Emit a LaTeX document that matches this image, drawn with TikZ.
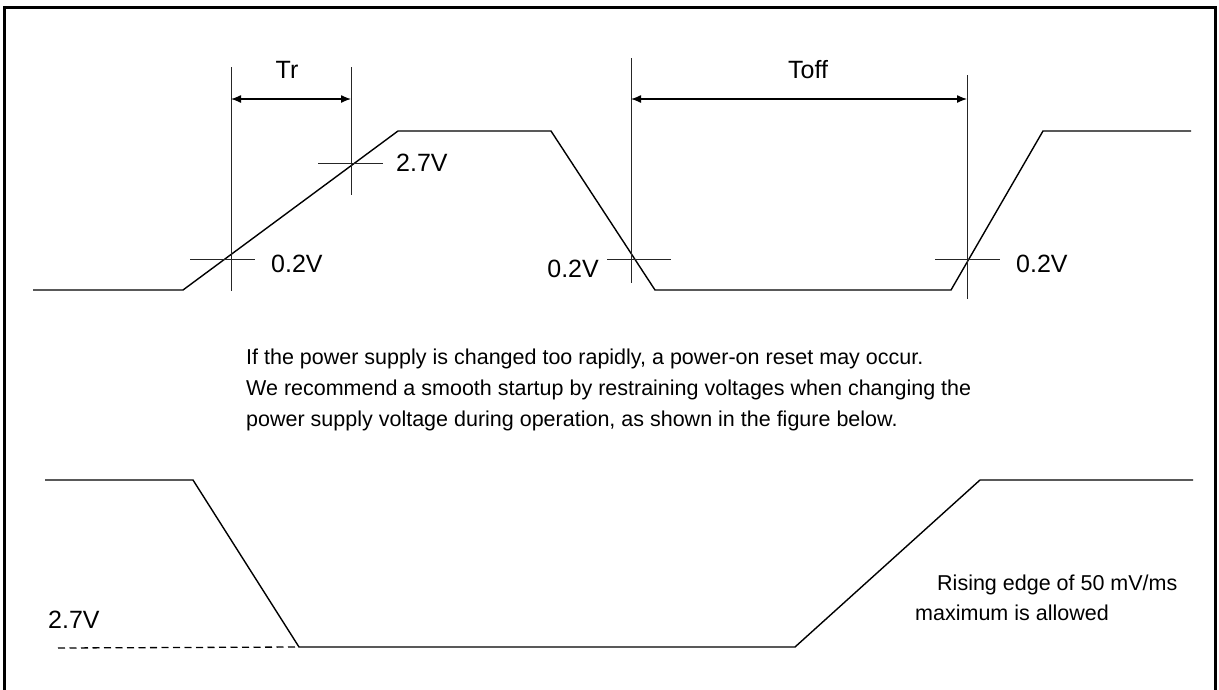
\documentclass[tikz,border=0pt]{standalone}
\usepackage{fontspec}
\setmainfont{Liberation Sans}
\usetikzlibrary{arrows.meta}
\begin{document}
\begin{tikzpicture}[x=1pt,y=-1pt,
  wave/.style={line width=1.4pt},
  tickline/.style={line width=1pt,black!85},
  dimline/.style={line width=1.3pt,{Latex[length=10pt,width=8pt]}-{Latex[length=10pt,width=8pt]}},
  lbl/.style={anchor=base west,inner sep=0pt,font=\fontsize{25}{30}\selectfont},
  txt/.style={anchor=base west,inner sep=0pt,font=\fontsize{21.5}{31}\selectfont}]
\useasboundingbox (0,0) rectangle (1219,689);
% frame (bottom edge lies below the picture)
\coordinate (f1) at (4,693); \coordinate (f2) at (4,7);
\coordinate (f3) at (1215,7); \coordinate (f4) at (1215,693);
\draw[line width=3pt] (f1) -- (f2) -- (f3) -- (f4);
% top waveform
\coordinate (w1) at (33,290);
\coordinate (w2) at (183,290);
\coordinate (w3) at (398,131);
\coordinate (w4) at (551,131);
\coordinate (w5) at (655,290);
\coordinate (w6) at (951,290);
\coordinate (w7) at (1043,131);
\coordinate (w8) at (1191,131);
\draw[wave] (w1) -- (w2) -- (w3) -- (w4) -- (w5) -- (w6) -- (w7) -- (w8);
% Tr
\coordinate (tra) at (231,67);  \coordinate (trb) at (231,291);
\coordinate (trc) at (351,67);  \coordinate (trd) at (351,195);
\draw[tickline] (tra) -- (trb);
\draw[tickline] (trc) -- (trd);
\coordinate (tr1) at (231,99); \coordinate (tr2) at (351,99);
\draw[dimline] (tr1) -- (tr2);
\node[anchor=base,inner sep=0pt,font=\fontsize{25}{30}\selectfont] (trl) at (287,78) {Tr};
% Toff
\coordinate (toa) at (631,58);  \coordinate (tob) at (631,283);
\coordinate (toc) at (967,75);  \coordinate (tod) at (967,299);
\draw[tickline] (toa) -- (tob);
\draw[tickline] (toc) -- (tod);
\coordinate (to1) at (631,99); \coordinate (to2) at (967,99);
\draw[dimline] (to1) -- (to2);
\node[anchor=base,inner sep=0pt,font=\fontsize{25}{30}\selectfont] (tol) at (808,78) {Toff};
% cross marks
\coordinate (h1a) at (190,259); \coordinate (h1b) at (255,259);
\coordinate (h2a) at (318,163); \coordinate (h2b) at (383,163);
\coordinate (h3a) at (607,259); \coordinate (h3b) at (671,259);
\coordinate (h4a) at (935,259); \coordinate (h4b) at (1000,259);
\draw[tickline] (h1a) -- (h1b);
\draw[tickline] (h2a) -- (h2b);
\draw[tickline] (h3a) -- (h3b);
\draw[tickline] (h4a) -- (h4b);
\node[lbl] (l1) at (271,272) {0.2V};
\node[lbl] (l2) at (396,171) {2.7V};
\node[lbl,anchor=base east] (l3) at (599,277) {0.2V};
\node[lbl] (l4) at (1016,272) {0.2V};
% paragraph
\node[txt] (p1) at (246,364) {If the power supply is changed too rapidly, a power-on reset may occur.};
\node[txt] (p2) at (246,395) {We recommend a smooth startup by restraining voltages when changing the};
\node[txt] (p3) at (246,426) {power supply voltage during operation, as shown in the figure below.};
% bottom waveform
\coordinate (b1) at (45,480);
\coordinate (b2) at (193,480);
\coordinate (b3) at (299,647);
\coordinate (b4) at (795,647);
\coordinate (b5) at (980,480);
\coordinate (b6) at (1193,480);
\draw[wave] (b1) -- (b2) -- (b3) -- (b4) -- (b5) -- (b6);
\coordinate (d1) at (58,648);
\draw[line width=1.3pt,dash pattern=on 7pt off 4.5pt] (d1) -- (b3);
\node[lbl] (l5) at (48,628) {2.7V};
\node[txt] (r1) at (937,590) {Rising edge of 50 mV/ms};
\node[txt] (r2) at (915,620) {maximum is allowed};
\end{tikzpicture}
\end{document}
